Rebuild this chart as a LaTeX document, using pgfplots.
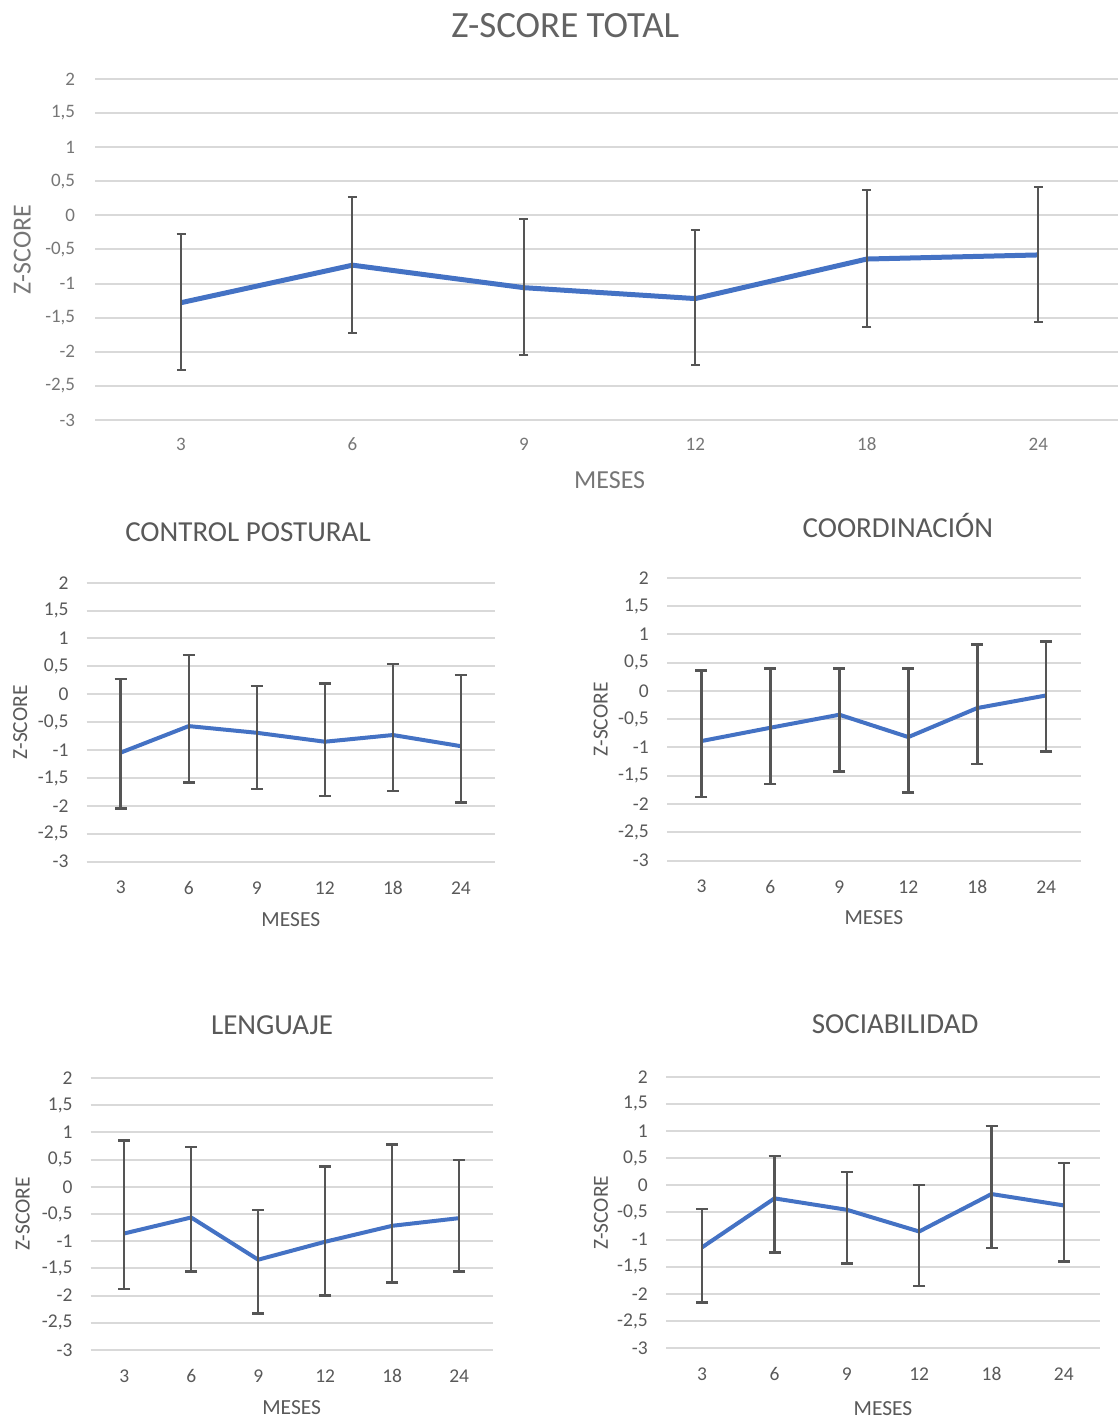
\documentclass[border=0pt]{standalone}
\usepackage{fontspec}
\setmainfont{Carlito}
\usepackage{pgfplots}
\pgfplotsset{compat=1.18}
\definecolor{linecol}{HTML}{4472C4}
\definecolor{errcol}{HTML}{555555}
\definecolor{gridcol}{HTML}{D9D9D9}
\definecolor{txtcol}{HTML}{595959}
\definecolor{toptxt}{HTML}{767676}
\definecolor{toptitle}{HTML}{636363}

\pgfplotsset{
 zchart/.style={
  scale only axis,
  xmin=-0.5, xmax=5.5, ymin=-3, ymax=2,
  xtick={0,1,2,3,4,5}, xticklabels={3,6,9,12,18,24},
  ytick={-3,-2.5,-2,-1.5,-1,-0.5,0,0.5,1,1.5,2},
  yticklabels={-3,{-2,5},-2,{-1,5},-1,{-0,5},0,{0,5},1,{1,5},2},
  ymajorgrids, grid style={gridcol, line width=2pt},
  axis line style={draw=none},
  major tick length=0pt,
  tick style={draw=none},
  clip=false,
  xlabel={MESES}, ylabel={Z-SCORE},
 },
 small/.style={
  tick label style={font=\fontsize{19.5}{22}\selectfont, text=txtcol},
  yticklabel style={anchor=east, inner sep=0pt, xshift=-18pt},
  xticklabel style={anchor=center, inner sep=0pt, yshift=-26pt},
  label style={font=\fontsize{21.5}{24}\selectfont, text=txtcol},
  title style={font=\fontsize{29}{34}\selectfont, text=txtcol, anchor=center, yshift=-6pt},
 },
 smallplot/.style={linecol, line width=4pt, line join=round, mark=none,
  error bars/.cd, y dir=both, y explicit,
  error bar style={errcol, line width=2.5pt},
  error mark options={errcol, rotate=90, mark size=6pt, line width=2.5pt}},
}

\begin{document}
\begin{tikzpicture}
\useasboundingbox (0,0) rectangle (1118pt,1419pt);

% ---------- Z-SCORE TOTAL ----------
\begin{axis}[zchart,
  at={(95.3pt,999pt)}, anchor=south west, width=1028.7pt, height=341pt,
  tick label style={font=\fontsize{19}{21}\selectfont, text=toptxt},
  yticklabel style={anchor=east, inner sep=0pt, xshift=-20pt},
  xticklabel style={anchor=center, inner sep=0pt, yshift=-24pt},
  label style={font=\fontsize{26}{30}\selectfont, text=toptxt},
  xlabel style={at={(axis description cs:0.5,-0.176)}, anchor=center},
  ylabel style={at={(axis description cs:-0.071,0.5)}, anchor=center},
  title={Z-SCORE TOTAL},
  title style={at={(axis description cs:0.457,1.158)}, anchor=center, yshift=-7pt,
    font=\fontsize{37}{42}\selectfont, text=toptitle},
]
\addplot[linecol, line width=5pt, line join=round, mark=none,
  error bars/.cd, y dir=both, y explicit,
  error bar style={errcol, line width=2pt},
  error mark options={errcol, rotate=90, mark size=4.5pt, line width=2pt}]
 table[x=x, y=y, y error plus=ep, y error minus=em] {
x y ep em
0 -1.28 1.01 0.98
1 -0.73 1.00 0.99
2 -1.06 1.01 0.98
3 -1.22 1.00 0.98
4 -0.64 1.01 0.99
5 -0.58 1.00 0.98
};
\end{axis}

% ---------- CONTROL POSTURAL ----------
\begin{axis}[zchart, small,
  at={(86.7pt,557.3pt)}, anchor=south west, width=408.3pt, height=279pt,
  xlabel style={at={(axis description cs:0.5,-0.208)}, anchor=center},
  ylabel style={at={(axis description cs:-0.163,0.5)}, anchor=center},
  title={CONTROL POSTURAL},
  title style={at={(axis description cs:0.395,1.182)}},
]
\addplot[smallplot] table[x=x, y=y, y error plus=ep, y error minus=em] {
x y ep em
0 -1.045 1.32 1.005
1 -0.57 1.27 1.01
2 -0.69 0.84 1.01
3 -0.85 1.04 0.97
4 -0.73 1.27 1.00
5 -0.93 1.28 1.01
};
\end{axis}

% ---------- COORDINACION ----------
\begin{axis}[zchart, small,
  at={(667pt,558.3pt)}, anchor=south west, width=413.7pt, height=283pt,
  xlabel style={at={(axis description cs:0.5,-0.201)}, anchor=center},
  ylabel style={at={(axis description cs:-0.160,0.5)}, anchor=center},
  title={COORDINACIÓN},
  title style={at={(axis description cs:0.558,1.183)}},
]
\addplot[smallplot] table[x=x, y=y, y error plus=ep, y error minus=em] {
x y ep em
0 -0.886 1.25 0.99
1 -0.651 1.05 0.995
2 -0.421 0.82 1.00
3 -0.816 1.21 0.98
4 -0.303 1.12 0.99
5 -0.08 0.95 0.99
};
\end{axis}

% ---------- LENGUAJE ----------
\begin{axis}[zchart, small,
  at={(90.7pt,69pt)}, anchor=south west, width=402pt, height=272pt,
  xlabel style={at={(axis description cs:0.5,-0.213)}, anchor=center},
  ylabel style={at={(axis description cs:-0.169,0.5)}, anchor=center},
  title={LENGUAJE},
  title style={at={(axis description cs:0.451,1.195)}},
]
\addplot[smallplot] table[x=x, y=y, y error plus=ep, y error minus=em] {
x y ep em
0 -0.858 1.71 1.02
1 -0.564 1.30 0.99
2 -1.34 0.91 0.99
3 -1.01 1.38 0.99
4 -0.717 1.49 1.04
5 -0.576 1.07 0.98
};
\end{axis}

% ---------- SOCIABILIDAD ----------
\begin{axis}[zchart, small,
  at={(666pt,70.7pt)}, anchor=south west, width=434pt, height=271.6pt,
  xlabel style={at={(axis description cs:0.5,-0.221)}, anchor=center},
  ylabel style={at={(axis description cs:-0.150,0.5)}, anchor=center},
  title={SOCIABILIDAD},
  title style={at={(axis description cs:0.528,1.194)}},
]
\addplot[smallplot] table[x=x, y=y, y error plus=ep, y error minus=em] {
x y ep em
0 -1.14 0.70 1.02
1 -0.24 0.78 1.00
2 -0.45 0.70 0.99
3 -0.85 0.86 1.00
4 -0.16 1.25 0.99
5 -0.37 0.78 1.03
};
\end{axis}
\end{tikzpicture}
\end{document}
